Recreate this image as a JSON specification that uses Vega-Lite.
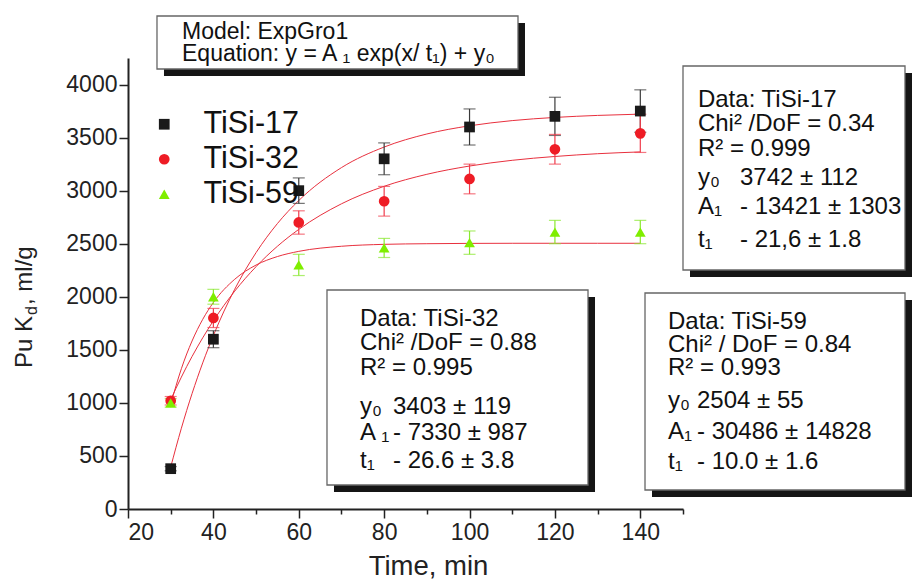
{
  "$schema": "https://vega.github.io/schema/vega-lite/v6.json",
  "width": 555,
  "height": 451,
  "autosize": {"type": "none"},
  "padding": {"left": 128, "top": 58, "right": 230, "bottom": 70},
  "background": "white",
  "config": {
    "view": {"stroke": null},
    "font": "Liberation Sans",
    "axis": {
      "grid": false,
      "domainColor": "#222",
      "domainWidth": 2,
      "tickColor": "#222",
      "tickWidth": 1.5,
      "labelFont": "Liberation Sans",
      "labelFontSize": 23,
      "labelColor": "#222",
      "titleFont": "Liberation Sans",
      "titleFontWeight": "normal",
      "titleColor": "#222"
    }
  },
  "datasets": {
    "pts": [
      {"series": "TiSi-17", "t": 30, "kd": 380, "lo": 360, "hi": 400},
      {"series": "TiSi-17", "t": 40, "kd": 1600, "lo": 1520, "hi": 1680},
      {"series": "TiSi-17", "t": 60, "kd": 3000, "lo": 2880, "hi": 3120},
      {"series": "TiSi-17", "t": 80, "kd": 3300, "lo": 3150, "hi": 3450},
      {"series": "TiSi-17", "t": 100, "kd": 3600, "lo": 3430, "hi": 3770},
      {"series": "TiSi-17", "t": 120, "kd": 3700, "lo": 3520, "hi": 3880},
      {"series": "TiSi-17", "t": 140, "kd": 3750, "lo": 3550, "hi": 3950},
      {"series": "TiSi-32", "t": 30, "kd": 1020, "lo": 980, "hi": 1060},
      {"series": "TiSi-32", "t": 40, "kd": 1800, "lo": 1710, "hi": 1890},
      {"series": "TiSi-32", "t": 60, "kd": 2700, "lo": 2590, "hi": 2810},
      {"series": "TiSi-32", "t": 80, "kd": 2900, "lo": 2760, "hi": 3040},
      {"series": "TiSi-32", "t": 100, "kd": 3110, "lo": 2970, "hi": 3250},
      {"series": "TiSi-32", "t": 120, "kd": 3390, "lo": 3250, "hi": 3530},
      {"series": "TiSi-32", "t": 140, "kd": 3540, "lo": 3360, "hi": 3720},
      {"series": "TiSi-59", "t": 30, "kd": 1000, "lo": 960, "hi": 1040},
      {"series": "TiSi-59", "t": 40, "kd": 2000, "lo": 1930, "hi": 2070},
      {"series": "TiSi-59", "t": 60, "kd": 2300, "lo": 2200, "hi": 2400},
      {"series": "TiSi-59", "t": 80, "kd": 2460, "lo": 2370, "hi": 2550},
      {"series": "TiSi-59", "t": 100, "kd": 2510, "lo": 2400, "hi": 2620},
      {"series": "TiSi-59", "t": 120, "kd": 2610, "lo": 2500, "hi": 2720},
      {"series": "TiSi-59", "t": 140, "kd": 2610, "lo": 2500, "hi": 2720}
    ],
    "curves": [
      {"series": "TiSi-17", "t": 30, "kd": 395},
      {"series": "TiSi-17", "t": 32.5, "kd": 761},
      {"series": "TiSi-17", "t": 35, "kd": 1087},
      {"series": "TiSi-17", "t": 37.5, "kd": 1377},
      {"series": "TiSi-17", "t": 40, "kd": 1635},
      {"series": "TiSi-17", "t": 45, "kd": 2071},
      {"series": "TiSi-17", "t": 50, "kd": 2416},
      {"series": "TiSi-17", "t": 55, "kd": 2690},
      {"series": "TiSi-17", "t": 60, "kd": 2907},
      {"series": "TiSi-17", "t": 70, "kd": 3217},
      {"series": "TiSi-17", "t": 80, "kd": 3411},
      {"series": "TiSi-17", "t": 90, "kd": 3534},
      {"series": "TiSi-17", "t": 100, "kd": 3611},
      {"series": "TiSi-17", "t": 110, "kd": 3660},
      {"series": "TiSi-17", "t": 120, "kd": 3690},
      {"series": "TiSi-17", "t": 130, "kd": 3709},
      {"series": "TiSi-17", "t": 140, "kd": 3721},
      {"series": "TiSi-32", "t": 30, "kd": 1030},
      {"series": "TiSi-32", "t": 32.5, "kd": 1243},
      {"series": "TiSi-32", "t": 35, "kd": 1437},
      {"series": "TiSi-32", "t": 37.5, "kd": 1613},
      {"series": "TiSi-32", "t": 40, "kd": 1774},
      {"series": "TiSi-32", "t": 45, "kd": 2053},
      {"series": "TiSi-32", "t": 50, "kd": 2284},
      {"series": "TiSi-32", "t": 55, "kd": 2476},
      {"series": "TiSi-32", "t": 60, "kd": 2635},
      {"series": "TiSi-32", "t": 70, "kd": 2876},
      {"series": "TiSi-32", "t": 80, "kd": 3041},
      {"series": "TiSi-32", "t": 90, "kd": 3154},
      {"series": "TiSi-32", "t": 100, "kd": 3232},
      {"series": "TiSi-32", "t": 110, "kd": 3286},
      {"series": "TiSi-32", "t": 120, "kd": 3322},
      {"series": "TiSi-32", "t": 130, "kd": 3348},
      {"series": "TiSi-32", "t": 140, "kd": 3365},
      {"series": "TiSi-59", "t": 30, "kd": 986},
      {"series": "TiSi-59", "t": 32.5, "kd": 1322},
      {"series": "TiSi-59", "t": 35, "kd": 1583},
      {"series": "TiSi-59", "t": 37.5, "kd": 1787},
      {"series": "TiSi-59", "t": 40, "kd": 1946},
      {"series": "TiSi-59", "t": 45, "kd": 2165},
      {"series": "TiSi-59", "t": 50, "kd": 2299},
      {"series": "TiSi-59", "t": 55, "kd": 2379},
      {"series": "TiSi-59", "t": 60, "kd": 2428},
      {"series": "TiSi-59", "t": 70, "kd": 2476},
      {"series": "TiSi-59", "t": 80, "kd": 2494},
      {"series": "TiSi-59", "t": 90, "kd": 2500},
      {"series": "TiSi-59", "t": 100, "kd": 2503},
      {"series": "TiSi-59", "t": 110, "kd": 2504},
      {"series": "TiSi-59", "t": 120, "kd": 2504},
      {"series": "TiSi-59", "t": 130, "kd": 2504},
      {"series": "TiSi-59", "t": 140, "kd": 2504}
    ],
    "boxes": [
      {"box": "model", "x1": 26.79, "x2": 111.35, "y1": 4645.8, "y2": 4146.3},
      {"box": "TiSi-17", "x1": 150.0, "x2": 202.0, "y1": 4174.6, "y2": 2252.2},
      {"box": "TiSi-32", "x1": 66.61, "x2": 127.75, "y1": 2063.8, "y2": 226.2},
      {"box": "TiSi-59", "x1": 141.1, "x2": 202.0, "y1": 2035.5, "y2": 179.0}
    ],
    "modeltext": [
      {"tx": 32.65, "ty": 4430.0, "text": "Model: ExpGro1"},
      {"tx": 32.65, "ty": 4221.7, "text": "Equation: y = A ₁ exp(x/ t₁) + y₀"}
    ],
    "boxtext": [
      {"tx": 153.5, "ty": 3788.2, "text": "Data: TiSi-17"},
      {"tx": 153.5, "ty": 3562.1, "text": "Chi² /DoF = 0.34"},
      {"tx": 153.5, "ty": 3326.5, "text": "R² = 0.999"},
      {"tx": 153.5, "ty": 3053.2, "text": "y₀"},
      {"tx": 153.5, "ty": 2779.9, "text": "A₁"},
      {"tx": 153.5, "ty": 2469.0, "text": "t₁"},
      {"tx": 163.35, "ty": 3053.2, "text": "3742 ± 112"},
      {"tx": 163.35, "ty": 2779.9, "text": "- 13421 ± 1303"},
      {"tx": 163.35, "ty": 2469.0, "text": "- 21,6 ± 1.8"},
      {"tx": 74.34, "ty": 1724.5, "text": "Data: TiSi-32"},
      {"tx": 74.34, "ty": 1498.3, "text": "Chi² /DoF = 0.88"},
      {"tx": 74.34, "ty": 1262.7, "text": "R² = 0.995"},
      {"tx": 74.34, "ty": 895.2, "text": "y₀"},
      {"tx": 74.34, "ty": 650.2, "text": "A ₁"},
      {"tx": 74.34, "ty": 386.4, "text": "t₁"},
      {"tx": 82.07, "ty": 895.2, "text": "3403 ± 119"},
      {"tx": 82.07, "ty": 650.2, "text": "- 7330 ± 987"},
      {"tx": 82.07, "ty": 386.4, "text": "- 26.6 ± 3.8"},
      {"tx": 146.49, "ty": 1696.2, "text": "Data: TiSi-59"},
      {"tx": 146.49, "ty": 1479.5, "text": "Chi² / DoF = 0.84"},
      {"tx": 146.49, "ty": 1262.7, "text": "R² = 0.993"},
      {"tx": 146.49, "ty": 951.8, "text": "y₀"},
      {"tx": 146.49, "ty": 659.6, "text": "A₁"},
      {"tx": 146.49, "ty": 376.9, "text": "t₁"},
      {"tx": 153.28, "ty": 951.8, "text": "2504 ± 55"},
      {"tx": 153.28, "ty": 659.6, "text": "- 30486 ± 14828"},
      {"tx": 153.28, "ty": 376.9, "text": "- 10.0 ± 1.6"}
    ],
    "ytitle": [
      {"tx": -2.49, "ty": 1328.7, "text": "Pu K"},
      {"tx": -2.49, "ty": 1922.4, "text": ", ml/g"}
    ],
    "ysub": [
      {"tx": -1.2, "ty": 1828.1, "text": "d"}
    ]
  },
  "layer": [
    {
      "data": {"name": "curves"},
      "mark": {"type": "line", "color": "#e8303e", "strokeWidth": 1, "interpolate": "monotone"},
      "encoding": {
        "x": {
          "field": "t", "type": "quantitative", "title": "Time, min",
          "scale": {"domain": [20, 150], "nice": false, "zero": false},
          "axis": {
            "values": [20, 30, 40, 50, 60, 70, 80, 90, 100, 110, 120, 130, 140, 150],
            "labelExpr": "datum.value % 20 === 0 ? datum.label : ''",
            "tickSize": {"condition": {"test": "datum.value % 20 === 0", "value": 9}, "value": 5},
            "labelPadding": 3,
            "titleFontSize": 27.5,
            "titleX": 300,
            "titleY": 65,
            "titleAlign": "center",
            "titleBaseline": "alphabetic"
          }
        },
        "y": {
          "field": "kd", "type": "quantitative", "title": null,
          "scale": {"domain": [0, 4250], "nice": false, "zero": false},
          "axis": {
            "values": [0, 250, 500, 750, 1000, 1250, 1500, 1750, 2000, 2250, 2500, 2750, 3000, 3250, 3500, 3750, 4000, 4250],
            "format": "d",
            "labelExpr": "datum.value % 500 === 0 ? datum.label : ''",
            "tickSize": {"condition": {"test": "datum.value % 500 === 0", "value": 9}, "value": 5},
            "labelPadding": 2
          }
        },
        "detail": {"field": "series"}
      }
    },
    {
      "data": {"name": "pts"},
      "transform": [{"filter": "datum.series === 'TiSi-17'"}],
      "mark": {"type": "errorbar", "ticks": {"size": 12, "thickness": 1.2, "color": "#3a3a3a"}, "rule": {"strokeWidth": 1.2, "color": "#3a3a3a"}},
      "encoding": {
        "x": {"field": "t", "type": "quantitative", "title": "Time, min", "scale": {"domain": [20, 150], "nice": false, "zero": false}},
        "y": {"field": "lo", "type": "quantitative", "title": null, "scale": {"domain": [0, 4250], "nice": false, "zero": false}},
        "y2": {"field": "hi"}
      }
    },
    {
      "data": {"name": "pts"},
      "transform": [{"filter": "datum.series === 'TiSi-32'"}],
      "mark": {"type": "errorbar", "ticks": {"size": 12, "thickness": 1.2, "color": "#f03c4c"}, "rule": {"strokeWidth": 1.2, "color": "#f03c4c"}},
      "encoding": {
        "x": {"field": "t", "type": "quantitative", "title": "Time, min", "scale": {"domain": [20, 150], "nice": false, "zero": false}},
        "y": {"field": "lo", "type": "quantitative", "title": null, "scale": {"domain": [0, 4250], "nice": false, "zero": false}},
        "y2": {"field": "hi"}
      }
    },
    {
      "data": {"name": "pts"},
      "transform": [{"filter": "datum.series === 'TiSi-59'"}],
      "mark": {"type": "errorbar", "ticks": {"size": 12, "thickness": 1.2, "color": "#8ae830"}, "rule": {"strokeWidth": 1.2, "color": "#8ae830"}},
      "encoding": {
        "x": {"field": "t", "type": "quantitative", "title": "Time, min", "scale": {"domain": [20, 150], "nice": false, "zero": false}},
        "y": {"field": "lo", "type": "quantitative", "title": null, "scale": {"domain": [0, 4250], "nice": false, "zero": false}},
        "y2": {"field": "hi"}
      }
    },
    {
      "data": {"name": "pts"},
      "mark": {"type": "point", "filled": true, "opacity": 1, "strokeWidth": 0},
      "encoding": {
        "x": {"field": "t", "type": "quantitative", "title": "Time, min", "scale": {"domain": [20, 150], "nice": false, "zero": false}},
        "y": {"field": "kd", "type": "quantitative", "title": null, "scale": {"domain": [0, 4250], "nice": false, "zero": false}},
        "size": {
          "field": "series", "type": "nominal",
          "scale": {"domain": ["TiSi-17", "TiSi-32", "TiSi-59"], "range": [115, 115, 175]},
          "legend": null
        },
        "color": {
          "field": "series", "type": "nominal",
          "scale": {"domain": ["TiSi-17", "TiSi-32", "TiSi-59"], "range": ["#1a1a1a", "#ee1c25", "#7fee00"]},
          "legend": {"orient": "none", "legendX": 21, "legendY": 51, "title": null, "labelFontSize": 30.5, "labelFont": "Liberation Sans", "labelColor": "#111", "symbolSize": 110, "labelOffset": 24, "rowPadding": 4, "padding": 0, "symbolStrokeWidth": 0}
        },
        "shape": {
          "field": "series", "type": "nominal",
          "scale": {"domain": ["TiSi-17", "TiSi-32", "TiSi-59"], "range": ["square", "circle", "triangle-up"]},
          "legend": {"orient": "none", "legendX": 21, "legendY": 51, "title": null, "labelFontSize": 30.5, "labelFont": "Liberation Sans", "labelColor": "#111", "symbolSize": 110, "labelOffset": 24, "rowPadding": 4, "padding": 0, "symbolStrokeWidth": 0}
        }
      }
    },
    {
      "data": {"name": "boxes"},
      "mark": {"type": "rect", "fill": "#151515", "xOffset": 7, "x2Offset": 7, "yOffset": 7, "y2Offset": 7},
      "encoding": {
        "x": {"field": "x1", "type": "quantitative", "title": "Time, min", "scale": {"domain": [20, 150], "nice": false, "zero": false}},
        "x2": {"field": "x2"},
        "y": {"field": "y1", "type": "quantitative", "title": null, "scale": {"domain": [0, 4250], "nice": false, "zero": false}},
        "y2": {"field": "y2"}
      }
    },
    {
      "data": {"name": "boxes"},
      "mark": {"type": "rect", "fill": "white", "stroke": "#666", "strokeWidth": 1.3},
      "encoding": {
        "x": {"field": "x1", "type": "quantitative", "title": "Time, min", "scale": {"domain": [20, 150], "nice": false, "zero": false}},
        "x2": {"field": "x2"},
        "y": {"field": "y1", "type": "quantitative", "title": null, "scale": {"domain": [0, 4250], "nice": false, "zero": false}},
        "y2": {"field": "y2"}
      }
    },
    {
      "data": {"name": "modeltext"},
      "mark": {"type": "text", "align": "left", "baseline": "alphabetic", "fontSize": 23, "font": "Liberation Sans", "color": "#111"},
      "encoding": {
        "x": {"field": "tx", "type": "quantitative", "title": "Time, min", "scale": {"domain": [20, 150], "nice": false, "zero": false}},
        "y": {"field": "ty", "type": "quantitative", "title": null, "scale": {"domain": [0, 4250], "nice": false, "zero": false}},
        "text": {"field": "text"}
      }
    },
    {
      "data": {"name": "boxtext"},
      "mark": {"type": "text", "align": "left", "baseline": "alphabetic", "fontSize": 24, "font": "Liberation Sans", "color": "#111"},
      "encoding": {
        "x": {"field": "tx", "type": "quantitative", "title": "Time, min", "scale": {"domain": [20, 150], "nice": false, "zero": false}},
        "y": {"field": "ty", "type": "quantitative", "title": null, "scale": {"domain": [0, 4250], "nice": false, "zero": false}},
        "text": {"field": "text"}
      }
    },
    {
      "data": {"name": "ytitle"},
      "mark": {"type": "text", "align": "left", "baseline": "alphabetic", "angle": 270, "fontSize": 24, "font": "Liberation Sans", "color": "#222"},
      "encoding": {
        "x": {"field": "tx", "type": "quantitative", "title": "Time, min", "scale": {"domain": [20, 150], "nice": false, "zero": false}},
        "y": {"field": "ty", "type": "quantitative", "title": null, "scale": {"domain": [0, 4250], "nice": false, "zero": false}},
        "text": {"field": "text"}
      }
    },
    {
      "data": {"name": "ysub"},
      "mark": {"type": "text", "align": "left", "baseline": "alphabetic", "angle": 270, "fontSize": 16, "font": "Liberation Sans", "color": "#222"},
      "encoding": {
        "x": {"field": "tx", "type": "quantitative", "title": "Time, min", "scale": {"domain": [20, 150], "nice": false, "zero": false}},
        "y": {"field": "ty", "type": "quantitative", "title": null, "scale": {"domain": [0, 4250], "nice": false, "zero": false}},
        "text": {"field": "text"}
      }
    }
  ]
}
